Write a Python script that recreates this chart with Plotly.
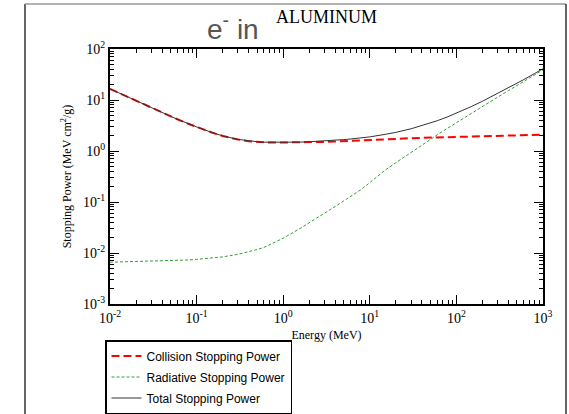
import plotly.graph_objects as go

energy = [0.01, 0.015, 0.02, 0.03, 0.04, 0.05, 0.06, 0.08, 0.1, 0.15, 0.2, 0.3, 0.4, 0.5, 0.6, 0.8,
          1, 1.5, 2, 3, 4, 5, 6, 8, 10, 15, 20, 30, 40, 50, 60, 80, 100, 150, 200, 300, 400, 500,
          600, 800, 1000]
collision = [16.5, 12.0, 9.6, 7.05, 5.66, 4.79, 4.19, 3.42, 2.96, 2.30, 1.97, 1.68, 1.56, 1.51, 1.48, 1.46,
             1.46, 1.46, 1.48, 1.51, 1.54, 1.57, 1.59, 1.62, 1.65, 1.70, 1.73, 1.78, 1.81, 1.83, 1.85, 1.88,
             1.90, 1.94, 1.96, 2.00, 2.02, 2.04, 2.05, 2.07, 2.09]
radiative = [0.0066, 0.0067, 0.0068, 0.0069, 0.0070, 0.0071, 0.0072, 0.0073, 0.0075, 0.0079, 0.0084, 0.0094,
             0.0105, 0.0117, 0.0129, 0.0160, 0.0195, 0.029, 0.039, 0.060, 0.082, 0.105, 0.128, 0.177, 0.24,
             0.42, 0.59, 0.95, 1.33, 1.70, 2.07, 2.83, 3.60, 5.55, 7.50, 11.4, 15.3, 19.2, 23.1, 31.0, 39.0]
total = [16.51, 12.01, 9.61, 7.06, 5.67, 4.80, 4.20, 3.43, 2.97, 2.31, 1.98, 1.69, 1.57, 1.52, 1.49, 1.476,
         1.48, 1.49, 1.52, 1.57, 1.62, 1.675, 1.72, 1.80, 1.89, 2.12, 2.32, 2.73, 3.14, 3.53, 3.92, 4.71,
         5.50, 7.49, 9.46, 13.40, 17.32, 21.24, 25.15, 33.07, 41.09]

x_tickvals = [0.01, 0.1, 1, 10, 100, 1000]
x_ticktext = ["10<sup>-2</sup>", "10<sup>-1</sup>", "10<sup>0</sup>", "10<sup>1</sup>", "10<sup>2</sup>", "10<sup>3</sup>"]
y_tickvals = [0.001, 0.01, 0.1, 1, 10, 100]
y_ticktext = ["10<sup>-3</sup>", "10<sup>-2</sup>", "10<sup>-1</sup>", "10<sup>0</sup>", "10<sup>1</sup>", "10<sup>2</sup>"]

W, H = 569, 414
L, R, T, B = 110, 26, 49, 110
pw, ph = W - L - R, H - T - B


def px(x):
    return (x - L) / pw


def py(y):
    return (H - B - y) / ph


fig = go.Figure()
fig.add_trace(go.Scatter(x=energy, y=collision, mode="lines", name="Collision Stopping Power",
                         legendgroup="a",
                         line=dict(color="#ff0000", width=2, dash="8px,4px")))
fig.add_trace(go.Scatter(x=energy, y=radiative, mode="lines", name="Radiative Stopping Power",
                         legendgroup="b",
                         line=dict(color="#33a033", width=1, dash="3px,2px")))
fig.add_trace(go.Scatter(x=energy, y=total, mode="lines", name="Total Stopping Power",
                         legendgroup="c",
                         line=dict(color="#333333", width=1)))

axis_common = dict(
    type="log", showgrid=False, zeroline=False,
    showline=True, linecolor="black", linewidth=2, mirror="allticks",
    ticks="inside", ticklen=9, tickwidth=1, tickcolor="black",
    tickmode="array",
    tickfont=dict(family="Liberation Serif", size=14, color="black"),
    minor=dict(ticks="inside", ticklen=4, tickcolor="black", dtick="D1", showgrid=False),
)

fig.update_xaxes(range=[-2, 3], tickvals=x_tickvals, ticktext=x_ticktext,
                 title=dict(text="Energy (MeV)", standoff=6,
                            font=dict(family="Liberation Serif", size=12, color="black")), **axis_common)
fig.update_yaxes(range=[-3, 2], tickvals=y_tickvals, ticktext=y_ticktext,
                 title=dict(text="Stopping Power (MeV cm<sup>2</sup>/g)", standoff=9,
                            font=dict(family="Liberation Serif", size=12, color="black")), **axis_common)

shapes = [
    dict(type="line", xref="paper", yref="paper", x0=px(25), x1=px(25), y0=py(4), y1=py(420),
         line=dict(color="#333333", width=1.5)),
    dict(type="line", xref="paper", yref="paper", x0=px(25), x1=px(566), y0=py(4), y1=py(4),
         line=dict(color="#999999", width=1.5)),
    dict(type="line", xref="paper", yref="paper", x0=px(566), x1=px(566), y0=py(4), y1=py(420),
         line=dict(color="#333333", width=1.5)),
]

annotations = [
    dict(text="e<sup>-</sup> in", xref="paper", yref="paper", x=px(233), y=py(27), showarrow=False,
         xanchor="center", yanchor="middle", font=dict(family="Liberation Sans", size=28, color="#555555")),
    dict(text="ALUMINUM", xref="paper", yref="paper", x=px(326), y=py(17), showarrow=False,
         xanchor="center", yanchor="middle", font=dict(family="Liberation Serif", size=18, color="black")),
]

fig.update_layout(
    width=W, height=H,
    margin=dict(l=L, r=R, t=T, b=B, autoexpand=False),
    paper_bgcolor="white", plot_bgcolor="white",
    shapes=shapes, annotations=annotations,
    showlegend=True,
    legend=dict(x=px(105), y=py(340), xanchor="left", yanchor="top",
                bordercolor="black", borderwidth=1.5, bgcolor="white",
                traceorder="grouped", tracegroupgap=2,
                font=dict(family="Liberation Sans", size=12, color="black")),
)

fig.write_html(
    "out.html",
    config={"displayModeBar": False},
    post_script="document.body.style.margin='0';document.body.style.overflow='hidden';"
                "document.documentElement.style.overflow='hidden';",
)
